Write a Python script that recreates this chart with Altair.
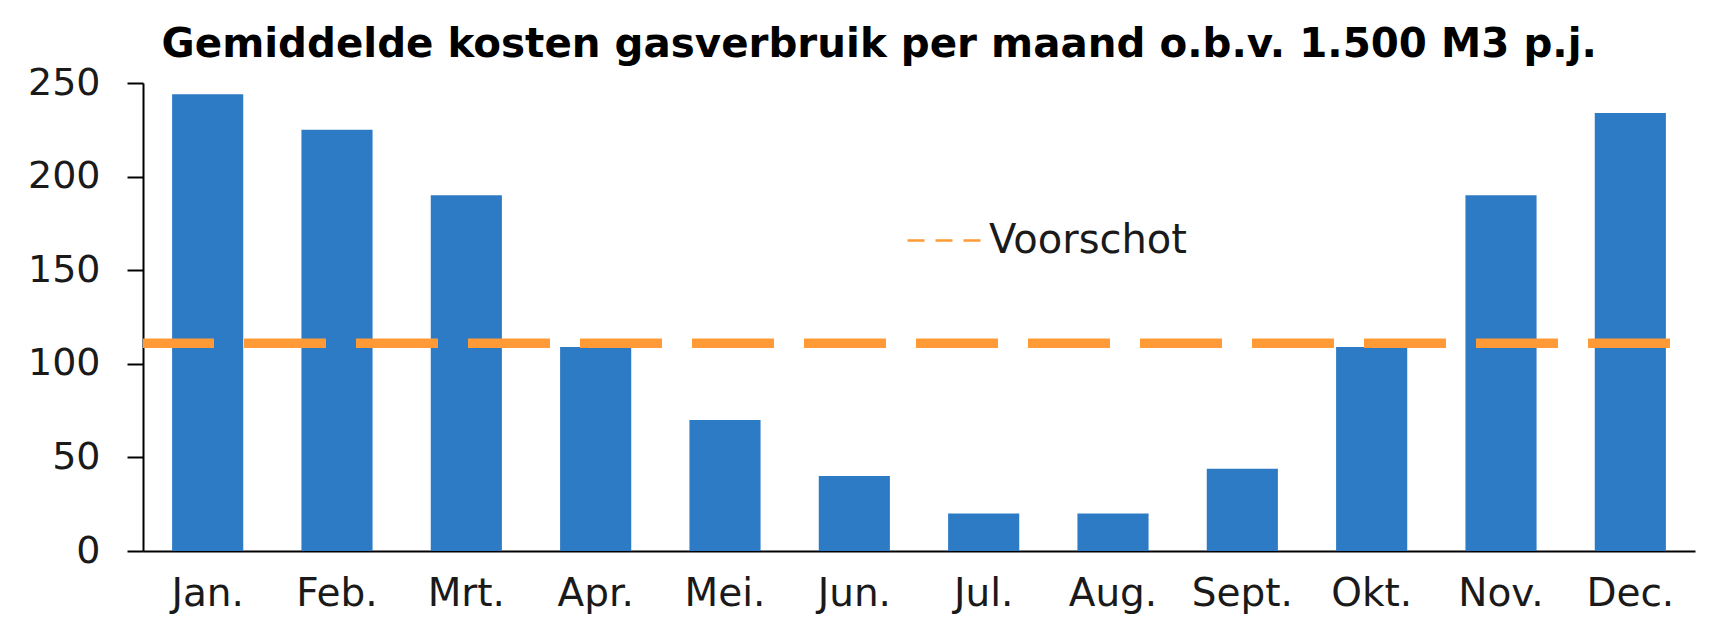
import altair as alt
import pandas as pd

# ---- data ----
months = ["Jan.", "Feb.", "Mrt.", "Apr.", "Mei.", "Jun.", "Jul.", "Aug.", "Sept.", "Okt.", "Nov.", "Dec."]
costs = [244, 225, 190, 109, 70, 40, 20, 20, 44, 109, 190, 234]
advance_label = ["Voorschot"]
advance_value = [111]
y_ticks = [0, 50, 100, 150, 200, 250]
title_text = "Gemiddelde kosten gasverbruik per maand o.b.v. 1.500 M3 p.j."

bars_df = pd.DataFrame({"maand": months, "kosten": costs})
rule_df = pd.DataFrame({"serie": advance_label, "bedrag": advance_value})

FONT = "DejaVu Sans"
BLUE = "#2E7BC5"
ORANGE = "#FF9A36"
TXT = "#1a1a1a"

y_scale = alt.Scale(domain=[0, 250], nice=False, zero=True)

bars = alt.Chart(bars_df).mark_bar(color=BLUE).encode(
    x=alt.X(
        "maand:N",
        sort=months,
        title=None,
        scale=alt.Scale(paddingInner=0.45, paddingOuter=0.225),
        axis=alt.Axis(
            labelAngle=0, ticks=False, tickSize=0, labelPadding=23,
            labelFontSize=39, labelFont=FONT, labelColor=TXT,
            domainColor="#000000", domainWidth=2,
        ),
    ),
    y=alt.Y(
        "kosten:Q",
        title=None,
        scale=y_scale,
        axis=alt.Axis(
            values=y_ticks, grid=False, tickSize=16, tickColor="#000000", tickWidth=2,
            labelPadding=27, labelFontSize=38, labelFont=FONT, labelColor=TXT,
            domainColor="#000000", domainWidth=2,
        ),
    ),
)

rule = alt.Chart(rule_df).mark_rule(
    strokeWidth=9.5, strokeDash=[82, 30], strokeDashOffset=87
).encode(
    y=alt.Y("bedrag:Q", scale=y_scale),
    color=alt.Color(
        "serie:N",
        scale=alt.Scale(range=[ORANGE]),
        legend=alt.Legend(
            title=None, orient="none", legendX=763, legendY=119,
            symbolType="stroke", symbolSize=5476, symbolDash=[17, 11],
            symbolStrokeWidth=2.5, labelFontSize=40, labelFont=FONT,
            labelColor=TXT, labelLimit=400, labelOffset=6, padding=0,
        ),
    ),
)

chart = alt.layer(bars, rule).properties(
    width=1552,
    height=468,
    autosize=alt.AutoSizeParams(type="none"),
    padding={"left": 135, "top": 75, "right": 6, "bottom": 66},
    title=alt.Title(
        title_text, anchor="start", frame="group", dx=18.6, dy=42, fontSize=40.4,
        font=FONT, fontWeight="bold", color="#000000", baseline="alphabetic", offset=9,
    ),
).configure(background="white").configure_view(stroke=None)

chart.save("out.html", embed_options={"renderer": "svg", "actions": False})
